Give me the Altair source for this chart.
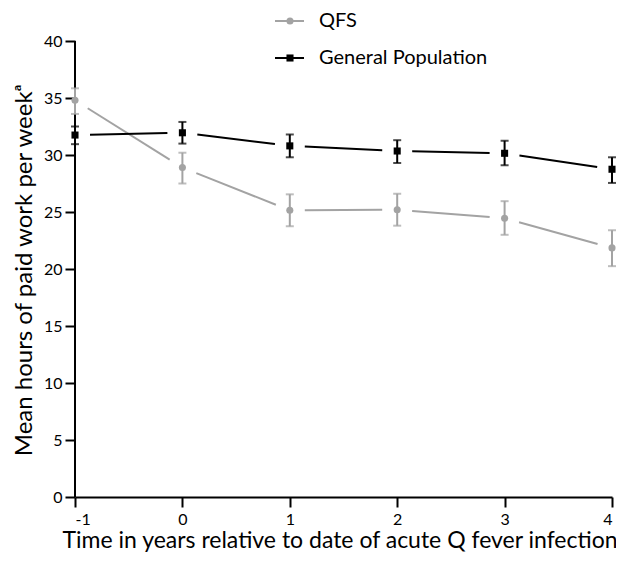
import altair as alt
import pandas as pd

years = [-1, 0, 1, 2, 3, 4]
series_names = ["QFS", "General Population"]
qfs_mean = [34.8, 28.9, 25.15, 25.2, 24.45, 21.85]
qfs_lo = [33.6, 27.5, 23.75, 23.8, 23.0, 20.25]
qfs_hi = [35.85, 30.2, 26.55, 26.6, 25.95, 23.4]
gp_mean = [31.75, 31.95, 30.8, 30.35, 30.15, 28.75]
gp_lo = [30.95, 31.0, 29.8, 29.3, 29.1, 27.55]
gp_hi = [32.5, 32.9, 31.8, 31.3, 31.25, 29.8]
y_ticks = [0, 5, 10, 15, 20, 25, 30, 35, 40]

rows = []
for i, yr in enumerate(years):
    rows.append({"year": yr, "series": "QFS", "mean": qfs_mean[i], "lo": qfs_lo[i], "hi": qfs_hi[i]})
    rows.append({"year": yr, "series": "General Population", "mean": gp_mean[i], "lo": gp_lo[i], "hi": gp_hi[i]})
df = pd.DataFrame(rows)

GREY = "#a3a3a3"
FONT = "Lato"
W, H = 537, 456
X_DOM, Y_DOM = [-1, 4], [0, 40]
GAP = 15  # px gap between connecting line and marker
SX = W / (X_DOM[1] - X_DOM[0])
SY = H / (Y_DOM[1] - Y_DOM[0])

color = alt.Color("series:N", scale=alt.Scale(domain=series_names, range=[GREY, "#000000"]), legend=None)
shape = alt.Shape("series:N", scale=alt.Scale(domain=series_names, range=["circle", "square"]), legend=None)

xscale = alt.Scale(domain=X_DOM, nice=False, zero=False)
yscale = alt.Scale(domain=Y_DOM, nice=False)

xaxis = alt.Axis(values=years, labelExpr="'' + datum.value", title="Time in years relative to date of acute Q fever infection",
                 domain=True, domainColor="black", domainWidth=2, tickColor="black", tickWidth=2, tickSize=10,
                 labelFont=FONT, labelFontSize=16, labelColor="black", labelPadding=4, grid=False,
                 titleFont=FONT, titleFontSize=23, titleFontWeight="normal", titleColor="black",
                 titleX=W / 2 - 4, titleY=43, titleBaseline="middle", titleAlign="center")
yaxis = alt.Axis(values=y_ticks, title="Mean hours of paid work per weekᵃ", domain=False,
                 tickColor="black", tickWidth=2, tickSize=10, labelFont=FONT, labelFontSize=16, labelColor="black",
                 labelPadding=3, grid=False, titleFont=FONT, titleFontSize=24, titleFontWeight="normal",
                 titleColor="black", titleX=-51, titleY=229, titleAngle=-90, titleBaseline="middle", titleAlign="center")

base = alt.Chart(df)

# connecting segments, shortened so they stop short of the markers
segs = base.transform_window(
    nx="lead(year)", ny="lead(mean)", groupby=["series"], sort=[alt.SortField("year")]
).transform_filter("datum.nx != null").transform_calculate(
    t=f"{GAP} / sqrt(pow((datum.nx - datum.year) * {SX}, 2) + pow((datum.ny - datum.mean) * {SY}, 2))"
).transform_calculate(
    sx1="datum.year + datum.t * (datum.nx - datum.year)",
    sy1="datum.mean + datum.t * (datum.ny - datum.mean)",
    sx2="datum.nx - datum.t * (datum.nx - datum.year)",
    sy2="datum.ny - datum.t * (datum.ny - datum.mean)",
).mark_rule(strokeWidth=2).encode(
    x=alt.X("sx1:Q", scale=xscale, axis=xaxis), y=alt.Y("sy1:Q", scale=yscale, axis=yaxis),
    x2="sx2:Q", y2="sy2:Q", color=color)

yline = alt.Chart(pd.DataFrame({"a": [0]})).mark_rule(color="black", strokeWidth=2).encode(
    x=alt.datum(-1, scale=xscale), y=alt.datum(0, scale=yscale), y2=alt.datum(40))
bars = base.mark_rule(strokeWidth=2).encode(
    x=alt.X("year:Q", scale=xscale), y=alt.Y("lo:Q", scale=yscale), y2="hi:Q", color=color)
cap_lo = base.mark_tick(orient="horizontal", size=8, thickness=2).encode(
    x=alt.X("year:Q", scale=xscale), y=alt.Y("lo:Q", scale=yscale), color=color)
cap_hi = base.mark_tick(orient="horizontal", size=8, thickness=2).encode(
    x=alt.X("year:Q", scale=xscale), y=alt.Y("hi:Q", scale=yscale), color=color)
points = base.mark_point(filled=True, size=50, opacity=1).encode(
    x=alt.X("year:Q", scale=xscale), y=alt.Y("mean:Q", scale=yscale), color=color, shape=shape)

# manual legend
leg_q = alt.Chart(pd.DataFrame({"series": ["QFS"]}))
leg_g = alt.Chart(pd.DataFrame({"series": ["General Population"]}))
legend_layers = []
for lc, yy in [(leg_q, -20), (leg_g, 17)]:
    legend_layers.append(lc.mark_rule(strokeWidth=2).encode(x=alt.value(200), x2=alt.value(229), y=alt.value(yy), color=color))
    legend_layers.append(lc.mark_point(filled=True, size=50, opacity=1).encode(x=alt.value(215), y=alt.value(yy), color=color, shape=shape))
    legend_layers.append(lc.mark_text(align="left", baseline="middle", font=FONT, fontSize=20, color="black").encode(
        x=alt.value(244), y=alt.value(yy), text="series:N"))

chart = alt.layer(segs, yline, bars, cap_lo, cap_hi, points, *legend_layers).properties(
    width=W, height=H, autosize=alt.AutoSizeParams(type="none"),
    padding={"left": 67, "top": 33, "right": 4, "bottom": 62}, background="white"
).configure_view(stroke=None)

chart.save("out.html", embed_options={"renderer": "svg", "actions": False})
